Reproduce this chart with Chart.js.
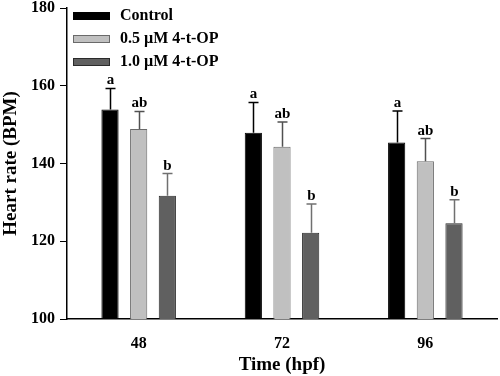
<!DOCTYPE html>
<html>
<head>
<meta charset="utf-8">
<script src="https://cdn.jsdelivr.net/npm/chart.js@4/dist/chart.umd.min.js"></script>
<style>
  body { margin: 0; background: #fff; }
  #wrap { width: 500px; height: 376px; }
</style>
</head>
<body>
<div id="wrap"><canvas id="heart_chart"></canvas></div>
<script>
const timeLabels = ['48', '72', '96'];
const groupNames = ['Control', '0.5 \u00b5M 4-t-OP', '1.0 \u00b5M 4-t-OP'];

const controlMeans = [153.9, 147.9, 145.4];
const lowMeans = [148.9, 144.3, 140.6];
const highMeans = [131.7, 122.2, 124.6];

const controlErr = [5.4, 7.8, 8.1];
const lowErr = [4.5, 6.4, 5.8];
const highErr = [5.7, 7.4, 6.1];

const controlLetters = ['a', 'a', 'a'];
const lowLetters = ['ab', 'ab', 'ab'];
const highLetters = ['b', 'b', 'b'];

const yTicks = [100, 120, 140, 160, 180];

const serif = '"Liberation Serif", "Times New Roman", serif';

// error bars + significance letters drawn on top of bars
const errorBarPlugin = {
    id: 'errorBars',
    afterDatasetsDraw(chart) {
        const ctx = chart.ctx;
        const y = chart.scales.y;
        chart.data.datasets.forEach(function(ds, di){
            const meta = chart.getDatasetMeta(di);
            meta.data.forEach(function(bar, i){
                const top = y.getPixelForValue(ds.data[i] + ds.errors[i]);
                const x = Math.round(bar.x) + 0.5;
                ctx.save();
                ctx.strokeStyle = ds.errColor;
                ctx.lineWidth = 1.5;
                ctx.beginPath();
                ctx.moveTo(x, bar.y);
                ctx.lineTo(x, top);
                ctx.moveTo(x - 5, top);
                ctx.lineTo(x + 5, top);
                ctx.stroke();
                ctx.fillStyle = '#000';
                ctx.font = 'bold 15px ' + serif;
                ctx.textAlign = 'center';
                ctx.textBaseline = 'alphabetic';
                ctx.fillText(ds.letters[i], x, top - 4);
                ctx.restore();
            });
        });
    }
};

// legend inside the plot, top left
const innerLegendPlugin = {
    id: 'innerLegend',
    afterDraw(chart) {
        const ctx = chart.ctx;
        const area = chart.chartArea;
        chart.data.datasets.forEach(function(ds, i){
            const bx = area.left + 6;
            const by = area.top + 4 + i * 23;
            ctx.save();
            ctx.fillStyle = ds.backgroundColor;
            ctx.fillRect(bx, by, 37, 8);
            ctx.strokeStyle = ds.borderColor;
            ctx.lineWidth = 1;
            ctx.strokeRect(bx + 0.5, by + 0.5, 36, 7);
            ctx.fillStyle = '#000';
            ctx.font = 'bold 16px ' + serif;
            ctx.textBaseline = 'middle';
            ctx.fillText(ds.label, bx + 47, by + 4);
            ctx.restore();
        });
    }
};

const ctx = document.getElementById('heart_chart').getContext('2d');
var chart = new Chart(ctx, {
    type: 'bar',
    data: {
        labels: timeLabels,
        datasets: [{
            label: groupNames[0],
            data: controlMeans,
            errors: controlErr,
            letters: controlLetters,
            backgroundColor: '#000000',
            borderColor: '#000000',
            errColor: '#000000',
            borderWidth: 1
        }, {
            label: groupNames[1],
            data: lowMeans,
            errors: lowErr,
            letters: lowLetters,
            backgroundColor: '#c0c0c0',
            borderColor: '#6a6a6a',
            errColor: '#505050',
            borderWidth: 1
        }, {
            label: groupNames[2],
            data: highMeans,
            errors: highErr,
            letters: highLetters,
            backgroundColor: '#606060',
            borderColor: '#2a2a2a',
            errColor: '#707070',
            borderWidth: 1
        }]
    },
    options: {
        responsive: true,
        maintainAspectRatio: false,
        animation: false,
        layout: { padding: { top: 8, right: 3, left: 0, bottom: 0 } },
        plugins: {
            legend: { display: false },
            tooltip: { enabled: false }
        },
        datasets: {
            bar: { barPercentage: 0.6, categoryPercentage: 0.6 }
        },
        scales: {
            x: {
                grid: { display: false, drawTicks: false },
                border: { color: '#000', width: 1.5 },
                ticks: {
                    color: '#000',
                    padding: 15,
                    font: { family: serif, size: 16, weight: 'bold' }
                },
                title: {
                    display: true,
                    text: 'Time (hpf)',
                    color: '#000',
                    padding: { top: 0, bottom: 0 },
                    font: { family: serif, size: 19, weight: 'bold' }
                },
                afterFit(scale) { scale.height = 57; }
            },
            y: {
                min: 100,
                max: 180,
                afterBuildTicks(scale) {
                    scale.ticks = yTicks.map(function(v){ return { value: v }; });
                },
                grid: {
                    display: true,
                    drawOnChartArea: false,
                    drawTicks: true,
                    tickLength: 7,
                    color: '#000'
                },
                border: { color: '#000', width: 1.5 },
                ticks: {
                    color: '#000',
                    padding: 5,
                    font: { family: serif, size: 16, weight: 'bold', lineHeight: 1 }
                },
                title: {
                    display: true,
                    text: 'Heart rate (BPM)',
                    color: '#000',
                    padding: { top: 0, bottom: 2 },
                    font: { family: serif, size: 19, weight: 'bold' }
                },
                afterFit(scale) {
                    scale.width = 67;
                    scale.paddingTop = 0;
                }
            }
        }
    },
    plugins: [errorBarPlugin, innerLegendPlugin]
});
</script>
</body>
</html>
